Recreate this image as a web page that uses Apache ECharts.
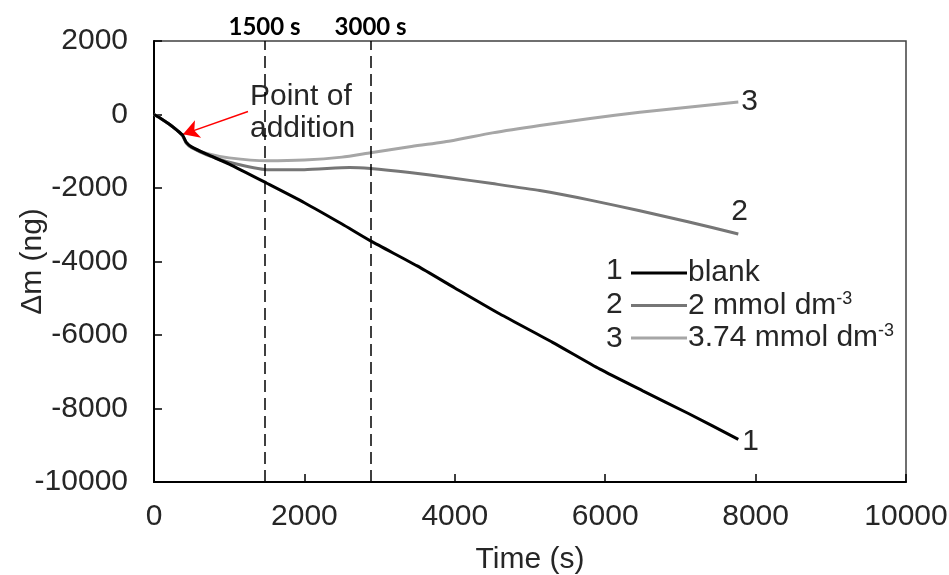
<!DOCTYPE html>
<html><head><meta charset="utf-8">
<script src="https://cdn.jsdelivr.net/npm/echarts@6/dist/echarts.min.js"></script>
<style>html,body{margin:0;padding:0;background:#fff}#c{width:949px;height:575px}</style>
</head><body><div id="c"></div>
<script>
const xTicks = [0, 2000, 4000, 6000, 8000, 10000];
const yTicks = [-10000, -8000, -6000, -4000, -2000, 0, 2000];

const t1 = [0, 100, 200, 300, 380, 430, 500, 700, 1000, 1500, 2000, 2500, 2880, 3500, 4000, 4600, 5300, 5930, 6500, 7100, 7770];
const blank = [0, -120, -260, -420, -560, -760, -880, -1080, -1350, -1870, -2400, -2980, -3440, -4120, -4720, -5430, -6200, -6930, -7520, -8130, -8840];

const t2 = [0, 100, 200, 300, 380, 430, 500, 700, 1000, 1500, 2000, 2600, 2880, 3400, 3940, 4500, 5130, 5800, 6460, 7100, 7770];
const mmol2 = [0, -120, -260, -420, -580, -780, -900, -1100, -1300, -1500, -1500, -1440, -1470, -1580, -1720, -1880, -2070, -2330, -2620, -2920, -3250];

const t3 = [0, 100, 200, 300, 380, 430, 500, 700, 1000, 1500, 2000, 2500, 2880, 3400, 3940, 4500, 5130, 5800, 6460, 7100, 7770];
const mmol374 = [0, -120, -260, -420, -580, -780, -900, -1060, -1180, -1260, -1240, -1160, -1040, -880, -720, -500, -300, -110, 60, 200, 340];

const seriesNames = ['blank', '2 mmol dm-3', '3.74 mmol dm-3'];
const seriesNums = ['1', '2', '3'];
const markTimes = [1470, 2880];
const markLabels = ['1500 s', '3000 s'];
const arrowFrom = [1250, 80];
const arrowTo = [385, -540];

const pair = (t, v) => t.map((x, i) => [x, v[i]]);
const FONT = '"Liberation Sans", Arial, sans-serif';
const TXT = '#262626';
const FS = 30;

const chart = echarts.init(document.getElementById('c'));
chart.setOption({
  animation: false,
  grid: { left: 154, right: 43, top: 41, bottom: 93, containLabel: false, outerBoundsMode: 'none', show: true, borderColor: '#404040', borderWidth: 1.5 },
  xAxis: {
    type: 'value', min: xTicks[0], max: xTicks[xTicks.length - 1], interval: 2000,
    name: 'Time (s)', nameLocation: 'middle', nameGap: 63, nameMoveOverlap: false,
    nameTextStyle: { fontFamily: FONT, fontSize: FS, color: TXT },
    axisLine: { onZero: false, lineStyle: { color: '#000', width: 2 } },
    axisTick: { inside: true, length: 8, lineStyle: { color: '#000', width: 1.5 } },
    axisLabel: { fontFamily: FONT, fontSize: FS, color: TXT, margin: 20, formatter: v => String(v) },
    splitLine: { show: false }
  },
  yAxis: {
    type: 'value', min: yTicks[0], max: yTicks[yTicks.length - 1], interval: 2000,
    name: 'Δm (ng)', nameLocation: 'middle', nameGap: 106, nameRotate: 90, nameMoveOverlap: false,
    nameTextStyle: { fontFamily: FONT, fontSize: FS, color: TXT },
    axisLine: { onZero: false, lineStyle: { color: '#000', width: 2 } },
    axisTick: { inside: true, length: 8, lineStyle: { color: '#000', width: 1.5 } },
    axisLabel: { fontFamily: FONT, fontSize: FS, color: TXT, margin: 26, formatter: v => String(v) },
    splitLine: { show: false }
  },
  legend: {
    orient: 'vertical', left: 626, top: 253, itemWidth: 56, itemHeight: 14, itemGap: 2,
    icon: 'path://M0,5.5 L56,5.5 L56,8.5 L0,8.5 Z',
    data: seriesNames,
    formatter: function (n) {
      if (n.endsWith('dm-3')) return n.slice(0, -2) + '{sup|-3}';
      return n;
    },
    textStyle: {
      fontFamily: FONT, fontSize: FS, color: TXT, padding: [0, 0, 0, -4],
      rich: { sup: { fontFamily: FONT, fontSize: 18, color: TXT, padding: [0, 0, 13, 0] } }
    }
  },
  graphic: [
    { type: 'text', left: 250, top: 81, style: { text: 'Point of\naddition', fontFamily: FONT, fontSize: FS, lineHeight: 32, fill: TXT } },
    { type: 'text', left: 606, top: 256, style: { text: seriesNums[0], fontFamily: FONT, fontSize: FS, fill: TXT } },
    { type: 'text', left: 606, top: 290, style: { text: seriesNums[1], fontFamily: FONT, fontSize: FS, fill: TXT } },
    { type: 'text', left: 606, top: 324, style: { text: seriesNums[2], fontFamily: FONT, fontSize: FS, fill: TXT } }
  ],
  series: [
    {
      name: seriesNames[0], type: 'line', data: pair(t1, blank), symbol: 'none', smooth: 0.2, z: 5,
      lineStyle: { color: '#000', width: 3 }, itemStyle: { color: '#000' },
      endLabel: { show: true, formatter: seriesNums[0], fontFamily: FONT, fontSize: FS, color: TXT, distance: 4, offset: [0, 2] },
      markLine: {
        silent: true, symbol: ['none', 'none'],
        lineStyle: { color: '#000', type: [12, 6], width: 1.5 },
        label: { show: true, position: 'end', fontFamily: 'Lato, "Noto Sans", sans-serif', fontWeight: 'bold', fontSize: 24, color: '#000', distance: 2 },
        data: markTimes.map((x, i) => ({ xAxis: x, label: { formatter: markLabels[i] } }))
      }
    },
    {
      name: seriesNames[1], type: 'line', data: pair(t2, mmol2), symbol: 'none', smooth: 0.2, z: 4,
      lineStyle: { color: '#767676', width: 3 }, itemStyle: { color: '#767676' },
      endLabel: { show: true, formatter: seriesNums[1], fontFamily: FONT, fontSize: FS, color: TXT, distance: 0, offset: [-7, -22] }
    },
    {
      name: seriesNames[2], type: 'line', data: pair(t3, mmol374), symbol: 'none', smooth: 0.2, z: 3,
      lineStyle: { color: '#a6a6a6', width: 3 }, itemStyle: { color: '#a6a6a6' },
      endLabel: { show: true, formatter: seriesNums[2], fontFamily: FONT, fontSize: FS, color: TXT, distance: 3 },
      markLine: {
        silent: true, symbol: ['none', 'arrow'], symbolSize: [14, 16],
        lineStyle: { color: '#ff0000', type: 'solid', width: 1.5 },
        label: { show: false },
        data: [[{ coord: arrowFrom }, { coord: arrowTo }]]
      }
    }
  ]
});
</script></body></html>
